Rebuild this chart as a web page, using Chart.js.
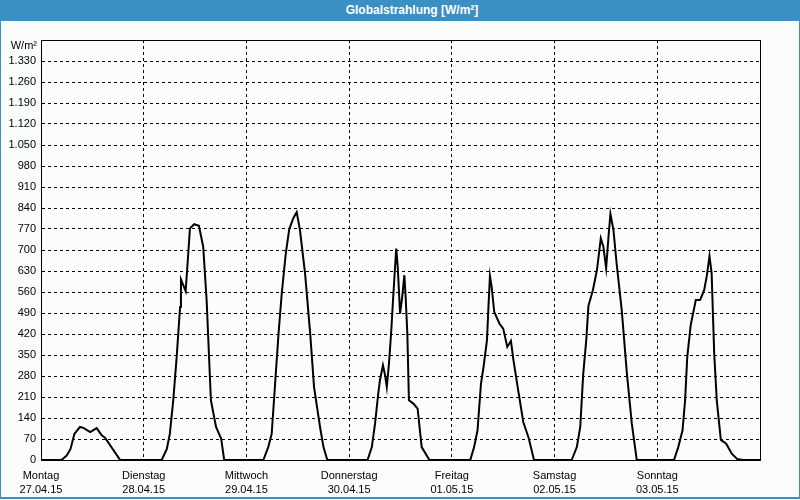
<!DOCTYPE html>
<html><head><meta charset="utf-8">
<script src="https://cdn.jsdelivr.net/npm/chart.js@4"></script>
<style>
html,body{margin:0;padding:0;width:800px;height:500px;overflow:hidden;background:#fafdfb;}
#wrap{position:absolute;left:0;top:0;width:800px;height:500px;}
#frame{position:absolute;left:0;top:0;width:798px;height:497px;border-left:1px solid #3a8fc4;border-right:1px solid #3a8fc4;border-bottom:2px solid #3a8fc4;pointer-events:none;}
#title{position:absolute;left:0;top:0;width:776px;padding-left:24px;height:21px;background:#3a8fc4;color:#fff;font:bold 12px "Liberation Sans",sans-serif;line-height:21px;text-align:center;}
</style></head>
<body>
<div id="wrap"><canvas id="c" width="800" height="500"></canvas></div>
<div id="frame"></div>
<div id="title">Globalstrahlung [W/m²]</div>
<script>
const chartTitle = "Globalstrahlung [W/m²]";
const unitLabel = "W/m²";
const dayNames = ["Montag","Dienstag","Mittwoch","Donnerstag","Freitag","Samstag","Sonntag"];
const dayDates = ["27.04.15","28.04.15","29.04.15","30.04.15","01.05.15","02.05.15","03.05.15"];
const yTickStep = 70;
const yMax = 1400;
const xMaxHours = 168;

// time in hours since 27.04.15 00:00
const hours = [
  0, 4.8, 6.0, 6.9, 7.8, 9.1, 9.9, 11.5, 13.0, 14.2, 14.95, 18.5,
  28.2, 29.4, 30.1, 30.9, 31.7, 32.5, 32.7, 33.8, 34.3, 34.8, 35.8, 36.9, 37.9, 38.7, 39.7, 40.9, 42.1, 42.8,
  51.95, 53.1, 53.9, 54.7, 55.5, 56.25, 57.2, 58.0, 58.95, 59.75, 60.5, 61.7, 62.9, 63.8, 65.2, 66.0, 66.9,
  76.3, 77.3, 78.05, 78.8, 79.2, 79.9, 80.4, 80.8, 81.3, 81.8, 82.3, 83.0, 83.35, 83.9, 84.4, 84.9, 85.2, 85.6, 85.97, 87.0, 88.0, 88.95, 90.75,
  100.3, 101.2, 102.0, 102.8, 103.4, 104.2, 104.55, 104.9, 105.3, 105.9, 107.1, 108.0, 108.95, 109.8, 110.4, 111.5, 112.7, 113.9, 115.2,
  124.0, 125.2, 126.0, 126.7, 127.4, 127.9, 128.95, 129.9, 130.8, 131.4, 132.05, 132.6, 133.05, 133.75, 134.5, 135.7, 136.9, 138.05, 139.2,
  147.9, 148.9, 149.9, 150.5, 151.0, 151.8, 153.0, 154.0, 154.95, 155.6, 156.2, 156.7, 157.3, 157.9, 158.85, 160.1, 161.4, 162.7, 164.0, 168
];
const radiation = [
  0, 0, 15, 37, 87, 110, 107, 93, 106, 82, 74, 0,
  0, 37, 87, 199, 343, 510, 602, 563, 666, 772, 786, 781, 711, 533, 199, 110, 71, 0,
  0, 43, 87, 254, 421, 555, 689, 769, 806, 826, 767, 622, 421, 243, 110, 43, 0,
  0, 43, 121, 221, 266, 316, 282, 243, 321, 421, 544, 705, 644, 488, 544, 616, 544, 421, 199, 188, 171, 43, 0,
  0, 43, 99, 254, 310, 399, 510, 613, 577, 494, 455, 438, 377, 397, 332, 232, 126, 76, 0,
  0, 43, 110, 288, 399, 513, 566, 633, 739, 711, 639, 744, 820, 767, 655, 499, 288, 121, 0,
  0, 43, 99, 199, 343, 449, 533, 533, 566, 616, 680, 622, 355, 199, 67, 54, 21, 3, 0, 0
];

const points = hours.map((h, i) => ({x: h, y: radiation[i]}));
const FONT = {family: '"Liberation Sans", Arial, sans-serif', size: 11};

const framePlugin = {
  id: 'frame',
  afterDraw(chart) {
    const {ctx, chartArea: a} = chart;
    ctx.save();
    ctx.strokeStyle = '#000';
    ctx.lineWidth = 1;
    ctx.setLineDash([]);
    ctx.strokeRect(Math.round(a.left) + 0.5, Math.round(a.top) + 0.5, Math.round(a.right - a.left), Math.round(a.bottom - a.top));
    ctx.fillStyle = '#000';
    ctx.font = '11px "Liberation Sans", Arial, sans-serif';
    ctx.textAlign = 'right';
    ctx.textBaseline = 'middle';
    ctx.fillText(unitLabel, a.left - 4, a.top + 6);
    ctx.restore();
  }
};

new Chart(document.getElementById('c'), {
  type: 'line',
  data: {datasets: [{
    label: chartTitle,
    data: points,
    borderColor: '#000',
    borderWidth: 2,
    pointRadius: 0,
    tension: 0,
    fill: false
  }]},
  options: {
    responsive: false,
    animation: false,
    events: [],
    layout: {padding: {left: 0, right: 40, top: 40, bottom: 0}},
    plugins: {legend: {display: false}, title: {display: false}, tooltip: {enabled: false}},
    scales: {
      x: {
        type: 'linear', min: 0, max: xMaxHours,
        afterFit(s) { s.height = 40; },
        ticks: {
          stepSize: 24, autoSkip: false, maxRotation: 0, color: '#000', padding: 9,
          font: Object.assign({}, FONT, {lineHeight: 1.3}),
          callback(v) { const i = Math.round(v / 24); return i < dayNames.length ? [dayNames[i], dayDates[i]] : ''; }
        },
        grid: {color: '#000', lineWidth: 1, drawTicks: false},
        border: {display: true, color: '#000', dash: [3, 3]}
      },
      y: {
        min: 0, max: yMax,
        afterFit(s) { s.width = 41; },
        ticks: {
          stepSize: yTickStep, autoSkip: false, color: '#000', padding: 5, font: FONT,
          callback(v) { return v >= yMax ? '' : v.toLocaleString('de-DE'); }
        },
        grid: {color: '#000', lineWidth: 1, drawTicks: false},
        border: {display: true, color: '#000', dash: [3, 3]}
      }
    }
  },
  plugins: [framePlugin]
});
</script>
</body></html>
